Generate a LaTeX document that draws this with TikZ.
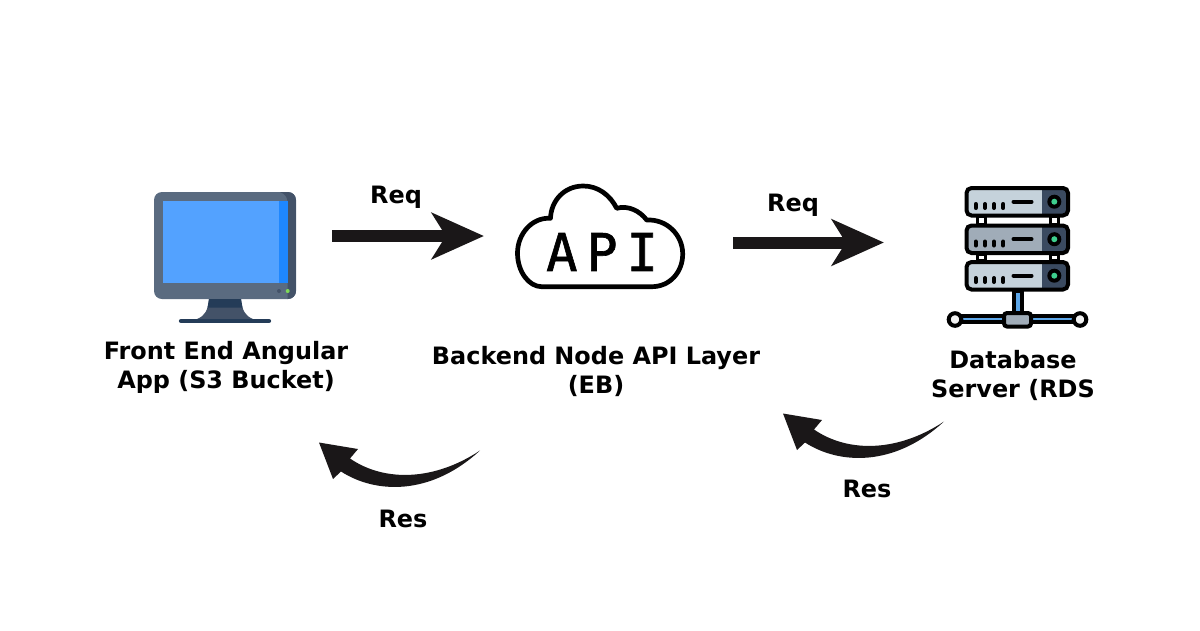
\documentclass[tikz,border=0pt]{standalone}
\usepackage{fontspec}
\setmainfont{DejaVu Sans}
\newfontfamily\apifont[LetterSpace=17, FakeBold=1.2]{DejaVu Sans Mono}
\usetikzlibrary{positioning, calc, arrows.meta}

\definecolor{frameblue}{HTML}{5A6B80}
\definecolor{framedark}{HTML}{435268}
\definecolor{screenblue}{HTML}{53A2FF}
\definecolor{stripblue}{HTML}{1E87FF}
\definecolor{standdark}{HTML}{243C58}
\definecolor{ledgreen}{HTML}{7ED957}
\definecolor{racklight}{HTML}{C5D2DB}
\definecolor{rackmid}{HTML}{A0ACB8}
\definecolor{rackpanel}{HTML}{3A4A60}
\definecolor{rackgreen}{HTML}{3ECF8E}
\definecolor{pipeblue}{HTML}{5DA6E8}
\definecolor{arrowink}{HTML}{1A1718}

\begin{document}
\begin{tikzpicture}[
        x=.01cm, y=-.01cm,
        icon/.style={
          inner sep=0pt, outer sep=0pt
        },
        title/.style={
          align=center, inner sep=0pt, font=\fontsize{6.8}{8.25}\selectfont\bfseries
        },
        tag/.style={
          inner sep=0pt, font=\fontsize{6.8}{8.25}\selectfont\bfseries
        },
        reqarrow/.style={
          draw=arrowink, line width=.12cm,
          -{Stealth[length=.52cm, width=.46cm, inset=.14cm, color=arrowink]}
        },
        rack/.style={
          draw=black, line width=.04cm, rounded corners=.05cm
        },
        pip/.style={
          black, line width=.04cm, line cap=round
        },
        resarrow/.pic={
          \fill[arrowink] (0,0) .. controls (-45,30) and (-95,32) .. (-130,8)
            -- (-122,-1.5) -- (-161,-8) -- (-147,28.5) -- (-139,21)
            .. controls (-105,43) and (-50,46) .. (0,0) -- cycle;
        },
      ]
        \useasboundingbox (0,0) rectangle (1200,630);

        % Icon boxes
        \node [icon, minimum width=1.42cm, minimum height=1.32cm] (monitor) at (225,258) {};
        \node [icon, minimum width=1.7cm, minimum height=1.05cm] (cloud) at (600,236) {};
        \node [icon, minimum width=1.42cm, minimum height=1.43cm] (server) at (1017,257) {};

        % Monitor
        \fill [frameblue, rounded corners=.08cm] (154,192) rectangle (296,299);
        \begin{scope}
          \clip [rounded corners=.08cm] (154,192) rectangle (296,299);
          \fill [framedark] (296,192) -- (280,192) .. controls (285,194) and (287,197) .. (287.5,201)
            -- (287.5,282) -- (287.5,299) -- (296,299) -- cycle;
        \end{scope}
        \fill [screenblue] (162.5,200.5) rectangle (279,282.5);
        \fill [stripblue] (279,200.5) rectangle (287.5,282.5);
        \fill [framedark] (279,291) circle (2);
        \fill [ledgreen] (287.7,291) circle (2);
        \fill [framedark] (209,299) .. controls (208,310) and (205,316) .. (197,319)
          -- (253,319) .. controls (245,316) and (242,310) .. (241,299) -- cycle;
        \fill [standdark] (209,299) -- (241,299) -- (242.5,307.5) -- (207.5,307.5) -- cycle;
        \draw [standdark, line width=.043cm, line cap=round] (181,321) -- (269,321);

        % Cloud
        \draw [black, line width=.047cm, line join=round]
          (541.7,286.7) -- (651.7,286.7)
          .. controls (670,286.7) and (682.7,272) .. (682.7,254)
          .. controls (682.7,235) and (667,219) .. (646.7,220)
          .. controls (640,211) and (628,205) .. (616.7,208.3)
          .. controls (610,195) and (598,186) .. (583.3,186)
          .. controls (564,186) and (551,201) .. (550.5,218.3)
          .. controls (532,217) and (517.5,234) .. (517.5,253)
          .. controls (517.5,272) and (529,286.7) .. (541.7,286.7) -- cycle;
        \node [icon, font=\fontsize{14.8}{16}\selectfont\apifont] (apilabel) at (602,252) {API};

        % Server
        \foreach \y/\c in {188/racklight, 225.5/rackmid, 262/racklight} {
          \fill [\c, rounded corners=.05cm] (966.5,\y) rectangle ++(101.5,27.5);
          \begin{scope}
            \clip [rounded corners=.05cm] (966.5,\y) rectangle ++(101.5,27.5);
            \fill [rackpanel] (1042,\y) rectangle ++(26,27.5);
          \end{scope}
          \draw [rack] (966.5,\y) rectangle ++(101.5,27.5);
          \fill [black] (1054.3,\y+13.7) circle (7);
          \fill [rackgreen] (1054.3,\y+13.7) circle (3);
          \foreach \x in {975.7,985,994,1003.3} {
            \draw [pip] (\x,\y+16) -- (\x,\y+20);
          }
          \draw [pip] (1013.5,\y+13.7) -- (1031.5,\y+13.7);
        }
        % Rack spacers
        \foreach \x in {981.7,1054.3} {
          \foreach \y in {215.5,253} {
            \draw [fill=white, line width=.035cm] (\x-4,\y+1) rectangle ++(8,\ifdim\y pt<220pt 8\else 7\fi);
          }
        }
        % Network stem and bar
        \draw [fill=pipeblue, line width=.04cm] (1013.5,291) rectangle (1022,313);
        \draw [fill=pipeblue, line width=.04cm] (955,315.7) rectangle (1080,322.3);
        \draw [fill=white!90!gray, line width=.04cm] (955,319.5) circle (6.3);
        \draw [fill=white!90!gray, line width=.04cm] (1080,319.5) circle (6.3);
        \draw [fill=rackmid, line width=.04cm, rounded corners=.03cm] (1004,313) rectangle (1031,326.5);

        % Titles
        \node [title] (fronttitle) at (226,367.5) {Front End Angular\\App (S3 Bucket)};
        \node [title] (backtitle) at (596,371) {Backend Node API Layer\\(EB)};
        \node [title] (dbtitle) at (1013,375) {Database\\Server (RDS};

        % Requests
        \draw [reqarrow, shorten <=.36cm, shorten >=.31cm] (monitor.east |- cloud.west) -- (cloud.west);
        \node [tag] (req1) at (396,197.5) {Req};
        \draw [reqarrow, shorten <=.48cm, shorten >=.62cm] ($(cloud.east)+(0,6.5)$) -- ($(server.west)+(0,-14.5)$);
        \node [tag] (req2) at (793,205.5) {Req};

        % Responses
        \pic at (480,450.5) {resarrow};
        \node [tag] (res1) at (403,518.5) {Res};
        \pic at (944,421.5) {resarrow};
        \node [tag] (res2) at (867,489) {Res};
      \end{tikzpicture}
\end{document}
